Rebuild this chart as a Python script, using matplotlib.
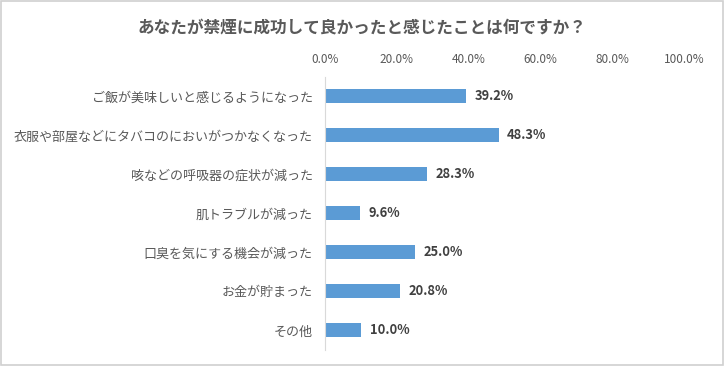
import matplotlib
matplotlib.use('Agg')
import matplotlib.pyplot as plt
from matplotlib.patches import Rectangle

plt.rcParams['font.family'] = ['Noto Sans CJK JP', 'DejaVu Sans']

#%% Data
title = 'あなたが禁煙に成功して良かったと感じたことは何ですか？'
categories = [
    'ご飯が美味しいと感じるようになった',
    '衣服や部屋などにタバコのにおいがつかなくなった',
    '咳などの呼吸器の症状が減った',
    '肌トラブルが減った',
    '口臭を気にする機会が減った',
    'お金が貯まった',
    'その他',
]
values = [39.2, 48.3, 28.3, 9.6, 25.0, 20.8, 10.0]
ticks = [0, 20, 40, 60, 80, 100]

#%% Plot
bar_color = '#5B9BD5'
text_gray = '#595959'

f = plt.figure(figsize=(7.24, 3.66), dpi=100)
ax = f.add_axes([0.449, 0.044, 0.496, 0.746])

ypos = list(range(len(categories)))
ax.barh(ypos, values, height=0.36, color=bar_color, edgecolor='none')
ax.set_ylim(len(categories) - 0.5, -0.5)
ax.set_xlim(0, 100)

ax.set_yticks(ypos)
ax.set_yticklabels(categories, fontsize=9.4, color=text_gray)
ax.tick_params(axis='y', length=0, pad=9)

ax.xaxis.tick_top()
ax.set_xticks(ticks)
ax.set_xticklabels([f'{t:.1f}%' for t in ticks], fontsize=8.5, color=text_gray)
ax.tick_params(axis='x', length=0, pad=8)

for s in ['top', 'right', 'bottom']:
    ax.spines[s].set_visible(False)
ax.spines['left'].set_color('#D9D9D9')

for y, v in zip(ypos, values):
    ax.text(v + 2.4, y, f'{v:.1f}%', va='center', ha='left',
            fontsize=9.3, fontweight='bold', color='#404040')

f.text(0.5, 0.925, title, ha='center', va='center',
       fontsize=12, fontweight='bold', color=text_gray)

f.patches.append(Rectangle((0.002, 0.003), 0.996, 0.994, transform=f.transFigure,
                           fill=False, edgecolor='#D0D0D0', linewidth=1.2))

plt.savefig('out.png', dpi=100)
